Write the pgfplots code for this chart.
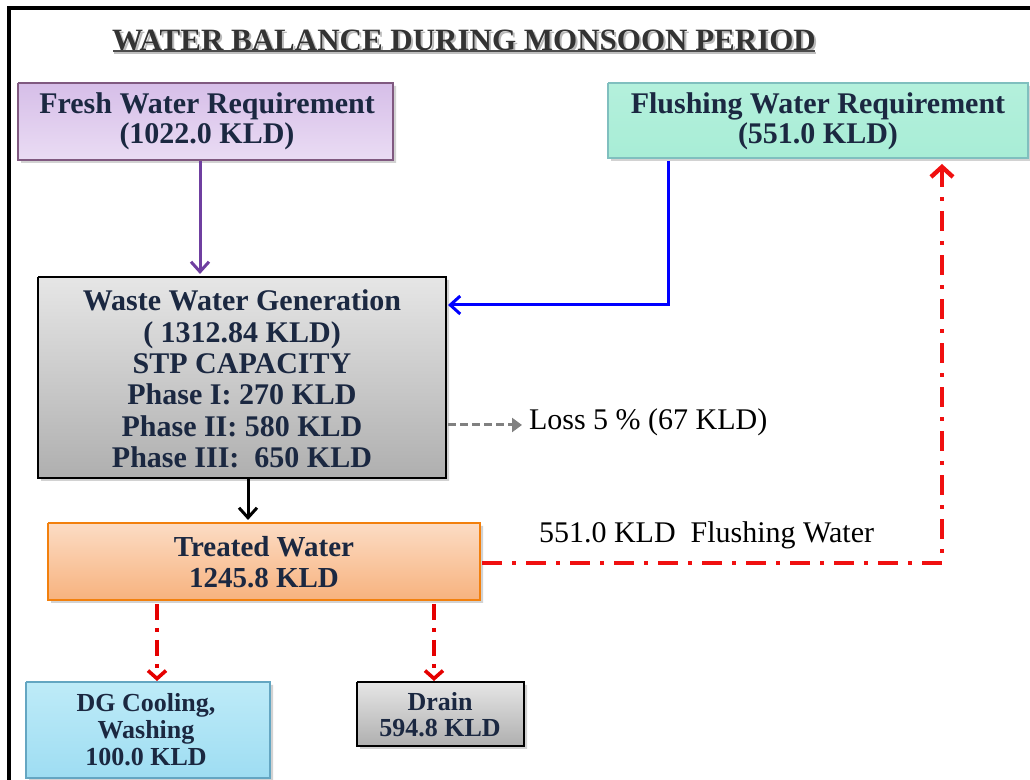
\documentclass[border=0pt]{standalone}
\usepackage{pgfplots}
\pgfplotsset{compat=1.18}
\usepackage{fontspec}
\setmainfont{Liberation Serif}
\usetikzlibrary{arrows.meta}
\definecolor{txt}{HTML}{1B2841}
\definecolor{purpA}{HTML}{D6BEE8}
\definecolor{purpB}{HTML}{EADCF4}
\definecolor{mintA}{HTML}{B4F0DC}
\definecolor{mintB}{HTML}{A8EDD6}
\definecolor{greyA}{HTML}{E6E6E6}
\definecolor{greyB}{HTML}{AFAFAF}
\definecolor{orA}{HTML}{FCDCC4}
\definecolor{orB}{HTML}{F7B27E}
\definecolor{blA}{HTML}{BEEBF8}
\definecolor{blB}{HTML}{9EDDF2}
\definecolor{arrpurple}{HTML}{6F3FA0}
\definecolor{flred}{HTML}{F01010}
\begin{document}
\begin{tikzpicture}
\begin{axis}[scale only axis, width=515pt, height=390pt,
  xmin=0, xmax=1030, ymin=0, ymax=780, y dir=reverse,
  hide axis, clip=false]
% frame
\addplot[black, line width=1.6pt] coordinates {(9,780) (9,8) (1030,8)};
% title
\node[font=\fontsize{15.5}{18}\selectfont\bfseries, text=gray!55] at (axis cs:466,42) {WATER BALANCE DURING MONSOON PERIOD};
\node[font=\fontsize{15.5}{18}\selectfont\bfseries, text=black!80] at (axis cs:464,40) {WATER BALANCE DURING MONSOON PERIOD};
\addplot[black!70, line width=0.9pt] coordinates {(113,51) (815,51)};
\addplot[gray!50, line width=0.9pt] coordinates {(114,53) (816,53)};
% shadows
\addplot[fill=gray!35, draw=none] coordinates {(21,86)(396,86)(396,163)(21,163)(21,86)};
\addplot[fill=gray!35, draw=none] coordinates {(611,86)(1030,86)(1030,161)(611,161)(611,86)};
\addplot[fill=gray!35, draw=none] coordinates {(41,280)(449,280)(449,481)(41,481)(41,280)};
\addplot[fill=gray!35, draw=none] coordinates {(51,526)(483,526)(483,603)(51,603)(51,526)};
\addplot[fill=gray!35, draw=none] coordinates {(29,685)(273,685)(273,780)(29,780)(29,685)};
\addplot[fill=gray!35, draw=none] coordinates {(360,685)(527,685)(527,749)(360,749)(360,685)};
% boxes
\addplot[draw=gray!70!violet, line width=0.6pt, top color=purpA, bottom color=purpB, line join=miter] coordinates {(18,83)(393,83)(393,160)(18,160)(18,83)};
\addplot[draw=teal!50, line width=0.6pt, top color=mintA, bottom color=mintB, line join=miter] coordinates {(608,83)(1028,83)(1028,158)(608,158)(608,83)};
\addplot[draw=black, line width=0.8pt, top color=greyA, bottom color=greyB, line join=miter] coordinates {(38,277)(446,277)(446,478)(38,478)(38,277)};
\addplot[draw=orange!80!brown, line width=0.6pt, top color=orA, bottom color=orB, line join=miter] coordinates {(48,523)(480,523)(480,600)(48,600)(48,523)};
\addplot[draw=cyan!50!gray, line width=0.6pt, top color=blA, bottom color=blB, line join=miter] coordinates {(26,682)(270,682)(270,778)(26,778)(26,682)};
\addplot[draw=black, line width=0.8pt, top color=greyA, bottom color=greyB, line join=miter] coordinates {(357,682)(524,682)(524,746)(357,746)(357,682)};
% texts
\node[font=\fontsize{15}{15}\selectfont\bfseries, text=txt, align=center] at (axis cs:207,121) {Fresh Water Requirement\\(1022.0 KLD)};
\node[font=\fontsize{15}{15}\selectfont\bfseries, text=txt, align=center] at (axis cs:818,121) {Flushing Water Requirement\\(551.0 KLD)};
\node[font=\fontsize{15}{15.7}\selectfont\bfseries, text=txt, align=center] at (axis cs:242,379) {Waste Water Generation\\( 1312.84 KLD)\\STP CAPACITY\\Phase I: 270 KLD\\Phase II: 580 KLD\\Phase III:\ \ 650 KLD};
\node[font=\fontsize{14.5}{15.5}\selectfont\bfseries, text=txt, align=center] at (axis cs:264,562) {Treated Water\\1245.8 KLD};
\node[font=\fontsize{13}{13.5}\selectfont\bfseries, text=txt, align=center] at (axis cs:146,730) {DG Cooling,\\Washing\\100.0 KLD};
\node[font=\fontsize{13}{13}\selectfont\bfseries, text=txt, align=center] at (axis cs:440,715) {Drain\\594.8 KLD};
\node[font=\fontsize{15}{15}\selectfont, text=black, anchor=west] at (axis cs:522,422) {Loss 5 \% (67 KLD)};
\node[font=\fontsize{15}{15}\selectfont, text=black, anchor=west] at (axis cs:532,535) {551.0 KLD\hspace{0.5em}Flushing Water};
% arrows
\addplot[arrpurple, line width=1.5pt, -{Straight Barb[length=5pt,width=9pt]}] coordinates {(200,161) (200,274)};
\addplot[blue, line width=1.5pt, -{Straight Barb[length=5pt,width=9pt]}] coordinates {(668,161) (668,305) (448,305)};
\addplot[gray, line width=1.5pt, dash pattern=on 4pt off 2pt, -{Triangle[length=5pt,width=7pt]}] coordinates {(448,425) (522,425)};
\addplot[black, line width=1.5pt, -{Straight Barb[length=5pt,width=9pt]}] coordinates {(248,479) (248,520)};
\addplot[flred, line width=2.2pt, dash pattern=on 10pt off 5pt on 2pt off 5pt, -{Straight Barb[length=5pt,width=11pt]}] coordinates {(482,563) (942,563) (942,164)};
\addplot[red!90!black, line width=1.8pt, dash pattern=on 8pt off 4pt on 2pt off 4pt, -{Straight Barb[length=4pt,width=9pt]}] coordinates {(157,604) (157,681)};
\addplot[red!90!black, line width=1.8pt, dash pattern=on 8pt off 4pt on 2pt off 4pt, -{Straight Barb[length=4pt,width=9pt]}] coordinates {(434,604) (434,681)};
\end{axis}
\pgfresetboundingbox
\path (current axis.south west) rectangle (current axis.north east);
\end{tikzpicture}
\end{document}
